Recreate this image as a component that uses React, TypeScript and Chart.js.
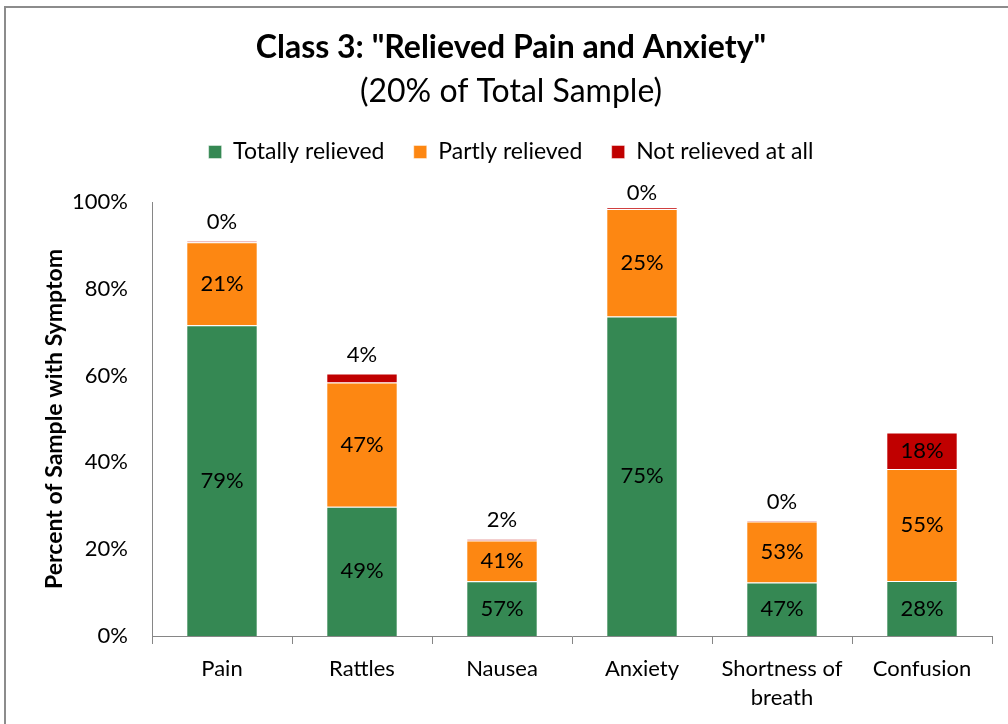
import React, { useEffect, useRef } from 'react';
import { Chart, registerables } from 'chart.js';

Chart.register(...registerables);

const titleText = 'Class 3: "Relieved Pain and Anxiety"';
const subtitleText = '(20% of Total Sample)';
const yAxisTitle = 'Percent of Sample with Symptom';
const categories: (string | string[])[] = ['Pain', 'Rattles', 'Nausea', 'Anxiety', ['Shortness of', 'breath'], 'Confusion'];
const seriesNames = ['Totally relieved', 'Partly relieved', 'Not relieved at all'];
// bar segment heights, in percent of sample
const totallyRelieved = [71.6, 29.8, 12.6, 73.6, 12.3, 12.7];
const partlyRelieved = [19.1, 28.6, 9.4, 24.8, 14.1, 25.8];
const notRelieved = [0.3, 2.1, 0.3, 0.3, 0.2, 8.4];
// labels printed on the segments (share within the symptom)
const totallyLabels = ['79%', '49%', '57%', '75%', '47%', '28%'];
const partlyLabels = ['21%', '47%', '41%', '25%', '53%', '55%'];
const notLabels = ['0%', '4%', '2%', '0%', '0%', '18%'];
const yMin = 0;
const yMax = 100;
const yStep = 20;

const FONT = 'Lato, "Open Sans", sans-serif';
const LABEL_SIZE = 22;
const AXIS_COLOR = '#868686';

const segmentLabelSets = [totallyLabels, partlyLabels, notLabels];

const segmentLabelPlugin = {
  id: 'segmentLabels',
  afterDatasetsDraw(chart: any) {
    const ctx = chart.ctx;
    ctx.save();
    ctx.font = `${LABEL_SIZE}px ${FONT}`;
    ctx.fillStyle = '#000';
    ctx.textAlign = 'center';
    ctx.textBaseline = 'middle';
    chart.data.datasets.forEach((_ds: any, i: number) => {
      const meta = chart.getDatasetMeta(i);
      const texts = segmentLabelSets[i];
      meta.data.forEach((bar: any, j: number) => {
        const { x, y, base } = bar.getProps(['x', 'y', 'base'], true);
        const h = Math.abs(base - y);
        let ty = (y + base) / 2;
        if (h < 20) ty = Math.max(Math.min(y, base) - 19, chart.chartArea.top - 9);
        ctx.fillText(texts[j], x, ty);
      });
    });
    ctx.restore();
  },
};

const framePlugin = {
  id: 'frame',
  beforeDraw(chart: any) {
    const ctx = chart.ctx;
    ctx.save();
    ctx.fillStyle = '#ffffff';
    ctx.fillRect(0, 0, chart.width, chart.height);
    ctx.strokeStyle = '#8c8c8c';
    ctx.lineWidth = 2;
    ctx.strokeRect(5, 7, chart.width + 20, chart.height + 20);
    ctx.restore();
  },
};

export default function App() {
  const ref = useRef<HTMLCanvasElement | null>(null);

  useEffect(() => {
    if (!ref.current) return;
    Chart.defaults.color = '#000';
    Chart.defaults.font.family = FONT;
    const chart = new Chart(ref.current, {
      type: 'bar',
      data: {
        labels: categories as any,
        datasets: [
          { label: seriesNames[0], data: totallyRelieved, backgroundColor: '#358853', borderColor: 'rgba(255,255,255,0.45)', borderWidth: 1 },
          { label: seriesNames[1], data: partlyRelieved, backgroundColor: '#FD8712', borderColor: 'rgba(255,255,255,0.45)', borderWidth: 1 },
          { label: seriesNames[2], data: notRelieved, backgroundColor: '#C00000', borderColor: 'rgba(255,255,255,0.45)', borderWidth: 1 },
        ],
      },
      options: {
        responsive: false,
        animation: false,
        devicePixelRatio: 1,
        layout: { padding: { left: 30, right: 16, top: 0, bottom: 0 } },
        datasets: { bar: { categoryPercentage: 1, barPercentage: 0.51 } },
        plugins: {
          tooltip: { enabled: false },
          title: {
            display: true,
            text: titleText,
            font: { size: 32, weight: 'bold', family: FONT, lineHeight: 1.2 },
            padding: { top: 28.8, bottom: 0 },
            color: '#000',
          },
          subtitle: {
            display: true,
            text: subtitleText,
            font: { size: 32, weight: 'normal', family: FONT, lineHeight: 1.2 },
            padding: { top: 5.6, bottom: 0 },
            color: '#000',
          },
          legend: {
            display: true,
            position: 'top',
            labels: {
              font: { size: 23, family: FONT },
              boxWidth: 13,
              boxHeight: 13,
              padding: 29.3,
              color: '#000',
            },
          },
        },
        scales: {
          x: {
            stacked: true,
            grid: { display: true, drawOnChartArea: false, drawTicks: true, tickLength: 8, offset: true, color: AXIS_COLOR },
            border: { display: true, color: AXIS_COLOR, width: 1 },
            ticks: { font: { size: 22, family: FONT, lineHeight: 1.3 }, padding: 11, maxRotation: 0, autoSkip: false, color: '#000' },
            afterFit: (s: any) => { s.height = 88; },
          },
          xTop: {
            type: 'category',
            position: 'top',
            display: true,
            grid: { display: false, drawTicks: false },
            border: { display: false },
            ticks: { display: false },
            afterFit: (s: any) => { s.height = 28.5; },
          },
          y: {
            stacked: true,
            min: yMin,
            max: yMax,
            grid: { display: false, drawTicks: false },
            border: { display: true, color: AXIS_COLOR, width: 1 },
            ticks: {
              stepSize: yStep,
              padding: 24,
              font: { size: 22, family: FONT },
              color: '#000',
              callback: (v: any) => `${v}%`,
            },
            title: {
              display: true,
              text: yAxisTitle,
              font: { size: 23, weight: 'bold', family: FONT, lineHeight: 1.2 },
              padding: { top: 11, bottom: 0 },
              color: '#000',
            },
            afterFit: (s: any) => { s.width = 122; },
          },
        },
      } as any,
      plugins: [framePlugin, segmentLabelPlugin],
    });
    return () => chart.destroy();
  }, []);

  return (
    <div style={{ position: 'absolute', left: 0, top: 0, width: 1008, height: 724 }}>
      <canvas ref={ref} width={1008} height={724} />
    </div>
  );
}
